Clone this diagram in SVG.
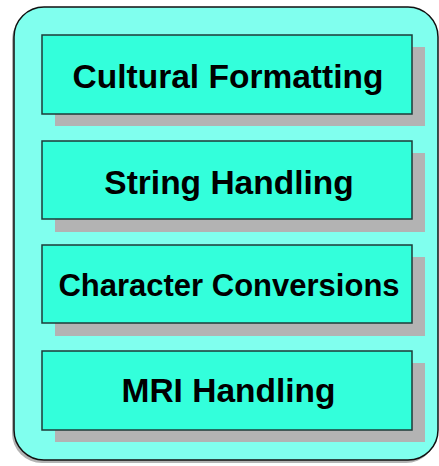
<svg xmlns="http://www.w3.org/2000/svg" width="439" height="466" viewBox="0 0 439 466">
  <style>
    .shadow { fill: #b3b3b3; }
    .panel { fill: #80ffee; stroke: #111; stroke-width: 1.5; }
    .box { fill: #33ffdb; stroke: #1e3b38; stroke-width: 1.5; }
    .label { font-family: "Liberation Sans", Arial, sans-serif; font-weight: bold; font-size: 33.5px; fill: #000; text-anchor: middle; }
    .label.narrow { font-size: 31px; }
  </style>
  <rect width="439" height="466" fill="#fff"/>
  <g id="panel">
    <rect class="shadow" x="12" y="10" width="424" height="453" rx="30" ry="30"/>
    <rect class="panel" x="14" y="7" width="424" height="453" rx="30" ry="30"/>
  </g>
  <g id="cultural-formatting">
    <rect class="shadow" x="55" y="47" width="370" height="79"/>
    <rect class="box" x="42" y="35" width="370" height="79"/>
    <text class="label" x="228" y="88">Cultural Formatting</text>
  </g>
  <g id="string-handling">
    <rect class="shadow" x="55" y="153" width="370" height="79"/>
    <rect class="box" x="42" y="141" width="370" height="78"/>
    <text class="label" x="229" y="194">String Handling</text>
  </g>
  <g id="character-conversions">
    <rect class="shadow" x="55" y="257" width="370" height="79"/>
    <rect class="box" x="42" y="245" width="370" height="78"/>
    <text class="label narrow" x="229" y="296">Character Conversions</text>
  </g>
  <g id="mri-handling">
    <rect class="shadow" x="55" y="363" width="370" height="79"/>
    <rect class="box" x="42" y="351" width="370" height="79"/>
    <text class="label" x="228.5" y="402">MRI Handling</text>
  </g>
  <g id="connectors"/>
</svg>
